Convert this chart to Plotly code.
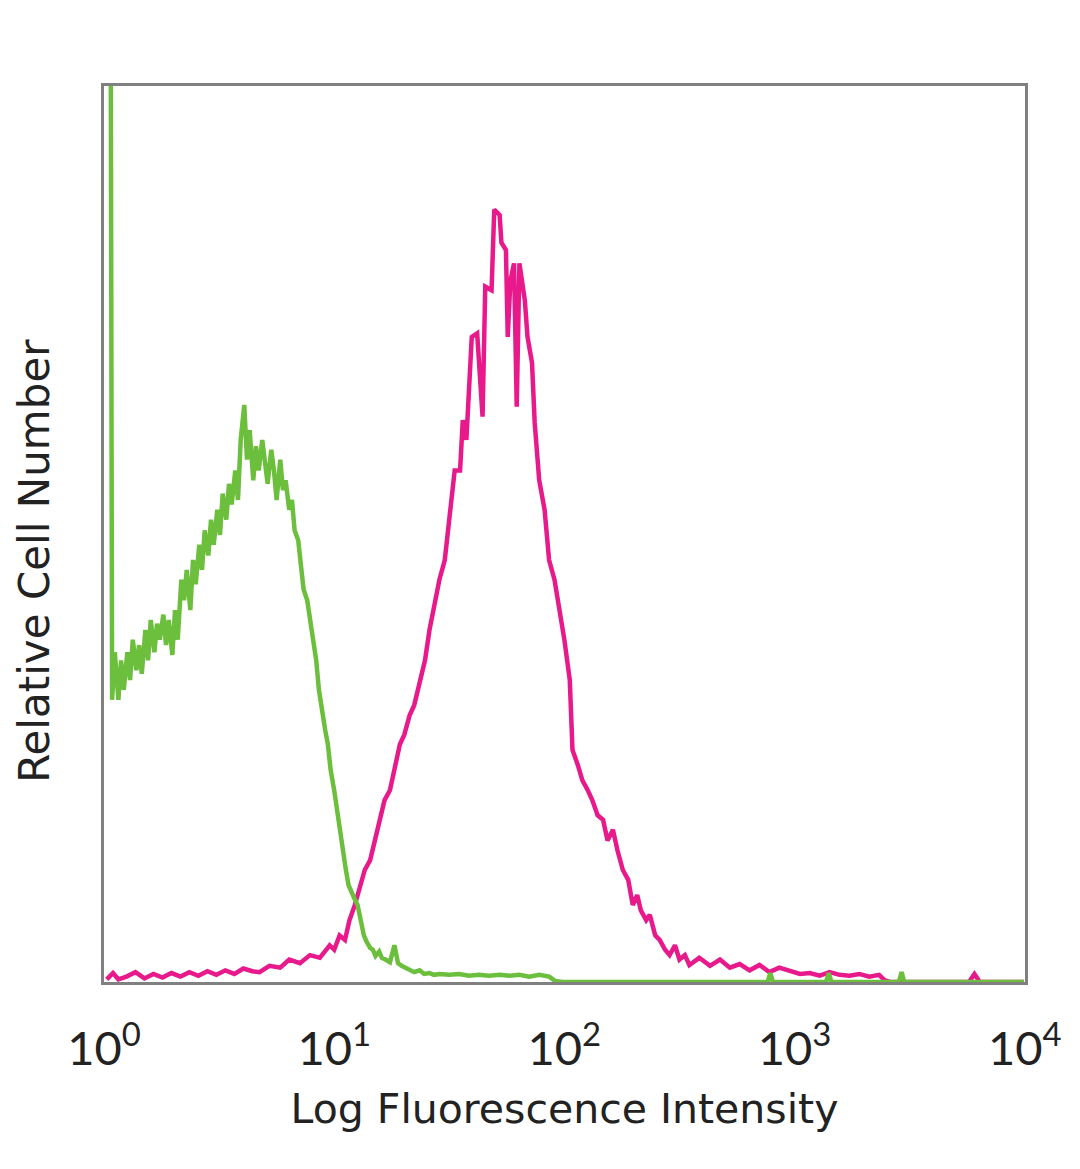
import plotly.graph_objects as go

# FACS-style histogram data: channel (256 channels per decade) and relative cell number
green_ch = [0, 7, 9, 12, 16, 19, 22, 26, 29, 32, 36, 39, 42, 46, 49, 52, 56, 59, 62, 66, 69, 72, 76, 79, 82,
            86, 89, 92, 96, 99, 102, 106, 109, 112, 116, 119, 122, 126, 129, 132, 136, 139, 142, 146, 149,
            152, 156, 159, 162, 166, 169, 172, 176, 179, 182, 186, 189, 192, 196, 199, 202, 206, 209, 212,
            216, 219, 222, 226, 229, 232, 236, 239, 242, 246, 249, 252, 256, 259, 262, 266, 269, 272, 276,
            279, 282, 286, 289, 292, 296, 299, 302, 306, 309, 313, 318, 323, 327, 331, 335, 340, 345, 351,
            356, 362, 367, 373, 384, 395, 406, 417, 428, 440, 451, 462, 473, 484, 495, 502, 510, 738, 741,
            744, 803, 806, 809, 884, 887, 890, 1023]
green_y = [130, 130, 31.5, 36.8, 31.5, 35.9, 32.6, 36.8, 33.7, 38.2, 34.8, 37.6, 34.4, 39.3, 35.9, 40.4,
           36.8, 40.0, 38.2, 41.0, 37.6, 40.4, 36.5, 41.5, 38.2, 44.9, 42.6, 46.0, 41.5, 47.1, 44.4, 48.8,
           46.0, 50.4, 47.6, 51.6, 48.8, 52.7, 49.9, 54.5, 51.6, 55.6, 53.3, 57.1, 53.8, 60.5, 64.4, 58.3,
           61.6, 56.0, 59.8, 57.1, 60.5, 58.3, 55.6, 59.4, 57.1, 53.8, 58.3, 54.9, 56.0, 52.7, 53.8, 50.4,
           49.3, 46.5, 43.8, 42.6, 40.4, 38.2, 35.9, 32.6, 30.4, 28.1, 26.5, 23.7, 21.4, 19.2, 17.0, 14.7,
           12.5, 10.8, 9.7, 9.2, 8.6, 6.9, 5.2, 4.5, 3.8, 3.6, 2.9, 3.4, 2.7, 2.5, 2.2, 4.1, 2.1, 1.8, 1.6,
           1.3, 1.1, 1.3, 0.9, 1.0, 0.8, 0.9, 0.8, 0.9, 0.7, 0.8, 0.7, 0.8, 0.7, 0.8, 0.6, 0.8, 0.6, 0.1,
           0, 0, 1.0, 0, 0, 1.0, 0, 0, 1.1, 0, 0]

magenta_ch = [3, 10, 16, 25, 35, 45, 55, 65, 75, 85, 95, 105, 115, 125, 135, 145, 155, 165, 173, 184,
              196, 206, 218, 229, 240, 251, 256, 262, 268, 273, 279, 284, 290, 296, 301, 307, 312, 318,
              323, 329, 334, 340, 345, 351, 357, 362, 368, 373, 379, 384, 390, 396, 399, 403, 406, 409,
              415, 421, 424, 431, 434, 440, 442, 447, 449, 452, 456, 459, 462, 468, 471, 476, 479, 484,
              490, 495, 501, 507, 512, 518, 521, 527, 532, 538, 543, 549, 555, 560, 566, 571, 577, 583,
              588, 593, 597, 603, 607, 613, 618, 624, 629, 635, 640, 646, 651, 662, 674, 685, 696, 707,
              718, 729, 740, 751, 762, 774, 785, 796, 807, 818, 829, 840, 851, 862, 868, 874, 962, 968,
              974, 1023]
magenta_y = [0.3, 1.0, 0.3, 0.6, 1.1, 0.4, 0.9, 0.5, 1.0, 0.6, 1.1, 0.7, 1.2, 0.8, 1.3, 0.9, 1.5, 1.2,
             1.1, 1.8, 1.6, 2.5, 2.1, 3.0, 2.7, 4.1, 3.6, 5.2, 4.7, 6.9, 8.6, 10.3, 12.5, 13.6, 15.8,
             18.1, 20.3, 21.4, 23.7, 26.5, 27.6, 29.8, 30.9, 33.7, 35.9, 39.3, 42.6, 44.9, 47.1, 51.6,
             57.1, 57.1, 62.7, 60.5, 67.5, 72.0, 72.4, 63.1, 77.6, 77.2, 86.2, 85.6, 82.5, 81.7, 72.0,
             78.3, 80.2, 64.2, 80.2, 76.1, 72.0, 69.1, 62.4, 56.0, 52.7, 47.1, 44.9, 41.5, 38.2, 33.7,
             25.9, 24.2, 22.5, 21.4, 20.3, 18.6, 18.1, 15.8, 17.0, 14.7, 12.5, 11.4, 8.6, 9.7, 8.0, 6.9,
             7.5, 5.2, 4.7, 3.6, 3.0, 4.1, 2.5, 3.0, 1.9, 2.7, 1.8, 2.5, 1.6, 2.0, 1.3, 1.9, 1.1, 1.6,
             1.3, 0.9, 1.0, 0.7, 1.1, 0.8, 0.7, 0.9, 0.6, 0.8, 0.2, 0, 0, 0.9, 0, 0]

tick_vals = [1, 10, 100, 1000, 10000]
tick_text = ["10<sup>0</sup>", "10<sup>1</sup>", "10<sup>2</sup>", "10<sup>3</sup>", "10<sup>4</sup>"]
x_title = "Log Fluorescence Intensity"
y_title = "Relative Cell Number"

CH_PER_DECADE = 256
green_x = [10 ** (c / CH_PER_DECADE) for c in green_ch]
magenta_x = [10 ** (c / CH_PER_DECADE) for c in magenta_ch]

fig = go.Figure()
fig.add_trace(go.Scatter(x=magenta_x, y=magenta_y, mode="lines",
                         line=dict(color="#e8198b", width=4.5), showlegend=False))
fig.add_trace(go.Scatter(x=green_x, y=green_y, mode="lines",
                         line=dict(color="#6cbf3c", width=4.5), showlegend=False))

fig.update_layout(
    width=1080, height=1169,
    margin=dict(l=96, r=63, t=78, b=195),
    paper_bgcolor="white", plot_bgcolor="white",
    font=dict(family="DejaVu Sans", color="#222"),
    annotations=[dict(text=y_title, textangle=-90, xref="paper", yref="paper",
                      x=-0.075, y=0.47, xanchor="center", yanchor="middle", showarrow=False,
                      font=dict(size=42, family="DejaVu Sans", color="#222"))],
)
fig.update_xaxes(type="log", range=[0, 4.001], tickvals=tick_vals, ticktext=tick_text,
                 showgrid=False, zeroline=False, showline=True, mirror=True,
                 linecolor="#808080", linewidth=3, ticks="outside", ticklen=24,
                 tickcolor="rgba(0,0,0,0)",
                 tickfont=dict(size=47, family="Lato", color="#222"),
                 title=dict(text=x_title, font=dict(size=41, family="DejaVu Sans", color="#222"), standoff=20))
fig.update_yaxes(range=[0, 100], showgrid=False, zeroline=False, showline=True, mirror=True,
                 linecolor="#808080", linewidth=3, ticks="", showticklabels=False)

fig.write_html("out.html")
